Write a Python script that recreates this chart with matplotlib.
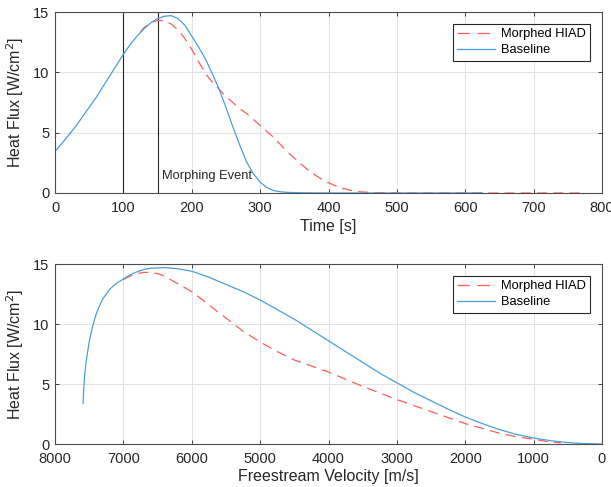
import matplotlib.pyplot as plt

plt.rcParams["font.family"] = ["Liberation Sans", "DejaVu Sans"]

# time history (s, W/cm^2)
t_base = [0, 10, 20, 30, 40, 50, 60, 70, 80, 90, 100, 110, 120, 130, 140, 150, 160, 170,
          180, 190, 200, 210, 220, 230, 240, 250, 260, 270, 280, 290, 300, 310, 320, 330,
          340, 360, 400, 500, 625]
q_base = [3.45, 4.1, 4.8, 5.5, 6.3, 7.1, 7.9, 8.8, 9.7, 10.6, 11.5, 12.3, 13.0, 13.6, 14.1,
          14.45, 14.65, 14.7, 14.45, 13.9, 13.0, 12.1, 11.1, 9.9, 8.6, 7.1, 5.5, 4.0, 2.6,
          1.6, 0.9, 0.45, 0.2, 0.1, 0.05, 0.02, 0.0, 0.0, 0.0]
t_morph = [125, 130, 140, 150, 155, 160, 170, 180, 190, 200, 210, 220, 230, 240, 250, 260,
           270, 280, 290, 300, 310, 320, 330, 340, 350, 360, 370, 380, 390, 400, 410, 420,
           430, 440, 450, 470, 500, 775]
q_morph = [13.35, 13.7, 14.1, 14.3, 14.3, 14.25, 14.0, 13.5, 12.8, 11.9, 10.9, 9.9, 9.2, 8.6,
           8.0, 7.5, 7.0, 6.6, 6.1, 5.6, 5.1, 4.6, 4.0, 3.4, 2.9, 2.4, 1.9, 1.5, 1.15, 0.85,
           0.6, 0.4, 0.25, 0.15, 0.08, 0.03, 0.0, 0.0]

# velocity history (m/s, W/cm^2)
v_base = [7590, 7580, 7570, 7550, 7525, 7500, 7450, 7400, 7350, 7300, 7200, 7100, 7000, 6900,
          6800, 6700, 6600, 6400, 6200, 6000, 5750, 5500, 5250, 5000, 4750, 4500, 4250, 4000,
          3750, 3500, 3250, 3000, 2750, 2500, 2250, 2000, 1750, 1500, 1250, 1000, 750, 500,
          250, 0]
qv_base = [3.4, 4.6, 5.5, 6.6, 7.6, 8.5, 9.8, 10.8, 11.5, 12.1, 12.9, 13.4, 13.75, 14.1,
           14.35, 14.55, 14.65, 14.7, 14.6, 14.4, 13.9, 13.3, 12.7, 12.0, 11.2, 10.4, 9.5,
           8.6, 7.7, 6.8, 5.9, 5.1, 4.3, 3.6, 2.9, 2.25, 1.7, 1.2, 0.8, 0.5, 0.27, 0.12,
           0.03, 0.0]
v_morph = [7000, 6900, 6800, 6700, 6600, 6500, 6400, 6250, 6000, 5750, 5500, 5250, 5000, 4750,
           4500, 4250, 4000, 3750, 3500, 3250, 3000, 2750, 2500, 2250, 2000, 1750, 1500, 1250,
           1000, 800, 600]
qv_morph = [13.7, 14.0, 14.2, 14.3, 14.3, 14.2, 14.0, 13.5, 12.7, 11.6, 10.5, 9.4, 8.5, 7.7,
            7.0, 6.5, 6.0, 5.4, 4.8, 4.25, 3.7, 3.2, 2.7, 2.2, 1.7, 1.3, 0.9, 0.6, 0.4, 0.2,
            0.1]

events = [100, 150]

red = "#ff5c5c"
blue = "#4a9fdb"
dark = "#262626"

fig = plt.figure(figsize=(6.11, 4.87), dpi=100)
ax1 = fig.add_axes([55/611, 1-193/487, 547/611, 181/487])
ax2 = fig.add_axes([55/611, 1-444/487, 547/611, 180/487])


def style(ax):
    ax.grid(True, color="#e3e3e3", linewidth=0.8)
    ax.set_axisbelow(True)
    for s in ax.spines.values():
        s.set_color("#4d4d4d")
        s.set_linewidth(0.8)
    ax.tick_params(direction="in", length=3, top=True, right=True, labelsize=10.5,
                   colors=dark, width=0.6)
    ax.tick_params(axis="x", pad=6)
    ax.tick_params(axis="y", pad=4)
    ax.set_ylim(0, 15)
    ax.set_yticks([0, 5, 10, 15])
    ax.set_ylabel("Heat Flux [W/cm$^2$]", fontsize=11.5, color=dark, labelpad=5)
    leg = ax.legend(loc="upper right", fontsize=9.3, fancybox=False, framealpha=1,
                    edgecolor=dark, handlelength=2.9, labelspacing=0.3, borderpad=0.35,
                    handletextpad=0.5, borderaxespad=0.9)
    leg.get_frame().set_linewidth(0.8)
    # dashes in the legend key look like two long strokes in the reference
    leg.get_lines()[0].set_dashes((10, 6))


for x in events:
    ax1.axvline(x, color=dark, linewidth=0.8)
ax1.plot(t_morph, q_morph, "--", color=red, linewidth=0.9, dashes=(8, 5), label="Morphed HIAD")
ax1.plot(t_base, q_base, "-", color=blue, linewidth=0.9, label="Baseline")
ax1.text(157, 1.15, "Morphing Event", fontsize=9.3, color=dark)
ax1.set_xlim(0, 800)
ax1.set_xticks(range(0, 801, 100))
ax1.set_xlabel("Time [s]", fontsize=11.5, color=dark, labelpad=3)
style(ax1)

ax2.plot(v_morph, qv_morph, "--", color=red, linewidth=0.9, dashes=(8, 5), label="Morphed HIAD")
ax2.plot(v_base, qv_base, "-", color=blue, linewidth=0.9, label="Baseline")
ax2.set_xlim(8000, 0)
ax2.set_xticks(range(0, 8001, 1000))
ax2.set_xlabel("Freestream Velocity [m/s]", fontsize=11.5, color=dark, labelpad=2)
style(ax2)

fig.savefig("out.png", dpi=100)
